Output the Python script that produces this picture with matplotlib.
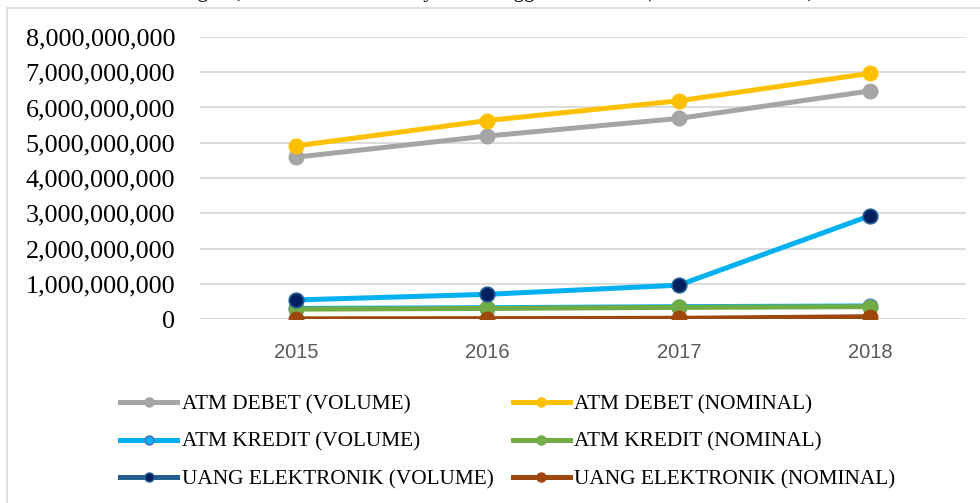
import matplotlib.pyplot as plt
from matplotlib.lines import Line2D
from matplotlib.patches import Rectangle
from matplotlib.ticker import FuncFormatter

years = ["2015", "2016", "2017", "2018"]

atm_debet_volume = [4.59e9, 5.19e9, 5.69e9, 6.47e9]
atm_debet_nominal = [4.91e9, 5.63e9, 6.19e9, 6.97e9]
atm_kredit_volume = [0.30e9, 0.32e9, 0.35e9, 0.37e9]
atm_kredit_nominal = [0.28e9, 0.30e9, 0.33e9, 0.35e9]
uang_elektronik_volume = [0.54e9, 0.70e9, 0.96e9, 2.93e9]
uang_elektronik_nominal = [0.005e9, 0.01e9, 0.02e9, 0.065e9]

GRAY = "#A5A5A5"
YELLOW = "#FFC000"
LIGHTBLUE = "#00B0F0"
GREEN = "#70AD47"
NAVY = "#002060"
DARKBLUE = "#255E91"
BROWN = "#9E480E"

W, H = 980, 503
fig = plt.figure(figsize=(W / 100, H / 100), dpi=100)

# outer chart border (only top/left visible in the crop)
fig.patches.append(Rectangle((7 / W, -0.1), 1.2, 1 - 8 / H + 0.1, transform=fig.transFigure,
                             fill=False, edgecolor="#D9D9D9", linewidth=1.2))

# caption line from the document above, cut off by the crop
fig.text(10 / W, 1 + 3 / H, "Gambar 1. Perkembangan (Transaksi Alat Pembayaran Menggunakan Kartu) Tahun 2015-2018)",
         family="Liberation Serif", fontsize=15, va="baseline", ha="left")

ax = fig.add_axes([200 / W, 1 - 319 / H, 766 / W, 282 / H])
x = range(len(years))

lw = 3.6
ms = 10.5
ax.plot(x, atm_debet_volume, color=GRAY, lw=lw, marker="o", ms=ms, mec=GRAY, zorder=3)
ax.plot(x, atm_debet_nominal, color=YELLOW, lw=lw, marker="o", ms=ms, mec=YELLOW, zorder=3)
ax.plot(x, atm_kredit_volume, color=LIGHTBLUE, lw=lw, marker="o", ms=ms, mec="#4472C4", zorder=3)
ax.plot(x, atm_kredit_nominal, color=GREEN, lw=lw, marker="o", ms=ms, mec=GREEN, zorder=3)
ax.plot(x, uang_elektronik_volume, color=LIGHTBLUE, lw=lw, marker="o", ms=ms, mfc=NAVY, mec=DARKBLUE,
        mew=1.2, zorder=3)
ax.plot(x, uang_elektronik_nominal, color=BROWN, lw=lw, marker="o", ms=ms, mec=BROWN, zorder=3)

ax.set_xlim(-0.5, 3.5)
ax.set_ylim(0, 8e9)
ax.set_yticks([i * 1e9 for i in range(9)])
ax.yaxis.set_major_formatter(FuncFormatter(lambda v, p: f"{v:,.0f}"))
ax.set_xticks(list(x))
ax.set_xticklabels(years)
ax.grid(axis="y", color="#D9D9D9", lw=1.3)
ax.set_axisbelow(True)
for s in ax.spines.values():
    s.set_visible(False)
ax.tick_params(length=0)
ax.tick_params(axis="y", pad=18)
ax.tick_params(axis="x", pad=17)
for t in ax.get_yticklabels():
    t.set_fontfamily("Liberation Serif")
    t.set_fontsize(18.8)
for t in ax.get_xticklabels():
    t.set_fontfamily("Liberation Sans")
    t.set_fontsize(14.5)
    t.set_color("#595959")

lms = 6.5
handles = [
    Line2D([], [], color=GRAY, lw=lw, marker="o", ms=lms, mec=GRAY),
    Line2D([], [], color=LIGHTBLUE, lw=lw, marker="o", ms=lms, mec="#4472C4"),
    Line2D([], [], color=DARKBLUE, lw=lw, marker="o", ms=lms, mfc=NAVY, mec=DARKBLUE),
    Line2D([], [], color=YELLOW, lw=lw, marker="o", ms=lms, mec=YELLOW),
    Line2D([], [], color=GREEN, lw=lw, marker="o", ms=lms, mec=GREEN),
    Line2D([], [], color=BROWN, lw=lw, marker="o", ms=lms, mec=BROWN),
]
labels = [
    "ATM DEBET (VOLUME)", "ATM KREDIT (VOLUME)", "UANG ELEKTRONIK (VOLUME)",
    "ATM DEBET (NOMINAL)", "ATM KREDIT (NOMINAL)", "UANG ELEKTRONIK (NOMINAL)",
]
fig.legend(handles, labels, ncol=2, loc="center left", bbox_to_anchor=(120 / W, 1 - 442 / H),
           frameon=False, prop={"family": "Liberation Serif", "size": 15.3},
           handlelength=2.7, handletextpad=0.2, columnspacing=0.9, labelspacing=0.82,
           borderpad=0, borderaxespad=0)

fig.savefig("out.png", dpi=100)
